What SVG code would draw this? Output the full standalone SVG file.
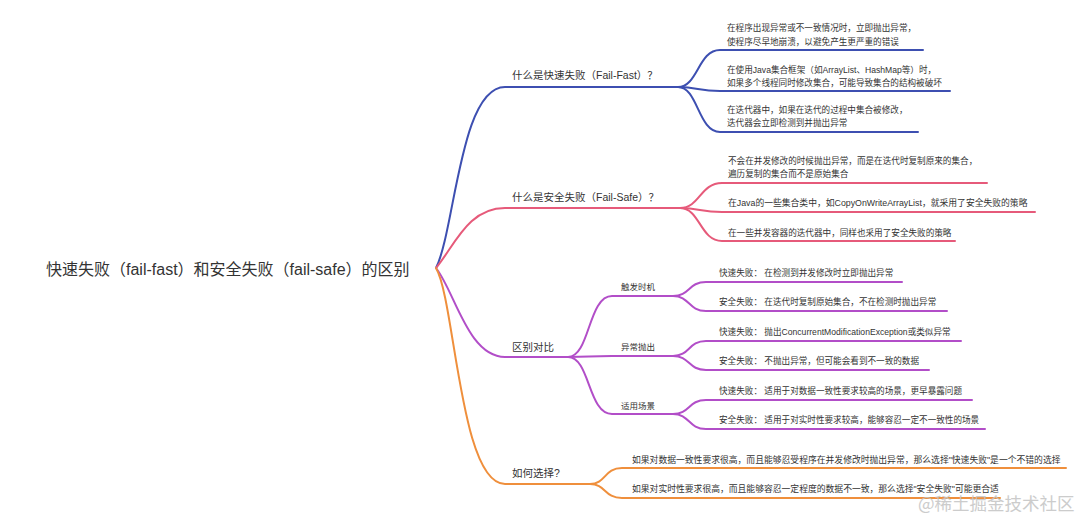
<svg xmlns="http://www.w3.org/2000/svg" width="1080" height="519" viewBox="0 0 1080 519">
<style>
text{font-family:"Liberation Sans","Noto Sans CJK SC",sans-serif;fill:#333}
.root{font-size:16px}
.l1{font-size:10.5px}
.l2{font-size:8.5px}
.leaf{font-size:8.6px}
.wide{font-size:8.8px}
.c{fill:none;stroke-width:2;stroke-linecap:round}
.b{stroke:#3d4fb1}.r{stroke:#e65a7a}.p{stroke:#b24ec8}.o{stroke:#ef8f3c}
.wm{font-family:"Noto Sans CJK SC",serif;font-size:17.5px;fill:#c4c4c4;opacity:0.85}
</style>
<rect width="1080" height="519" fill="#fff"/>
<g id="connectors">
<path class="c b" d="M436,268 C455,230 460,87 505,87 H678"/>
<path class="c b" d="M678,87 C698,87 698,50 720,50 H923"/>
<path class="c b" d="M678,87 C698,87 698,91 720,91 H950"/>
<path class="c b" d="M678,87 C698,87 698,132 720,132 H918"/>
<path class="c r" d="M436,268 C455,245 468,208 505,208 H680"/>
<path class="c r" d="M680,208 C700,208 700,183 722,183 H987"/>
<path class="c r" d="M680,208 C700,208 700,212 722,212 H1035"/>
<path class="c r" d="M680,208 C700,208 700,241 722,241 H955"/>
<path class="c p" d="M436,268 C455,292 468,357 505,357 H568"/>
<path class="c p" d="M568,357 C590,357 588,296 612,296 H673"/>
<path class="c p" d="M568,357 C590,357 588,356 612,356 H673"/>
<path class="c p" d="M568,357 C590,357 588,414 612,414 H673"/>
<path class="c p" d="M673,296 C690,296 688,282 706,282 H902"/>
<path class="c p" d="M673,296 C690,296 688,311 706,311 H947"/>
<path class="c p" d="M673,356 C690,356 688,341 706,341 H961"/>
<path class="c p" d="M673,356 C690,356 688,370 706,370 H929"/>
<path class="c p" d="M673,414 C690,414 688,400 706,400 H972"/>
<path class="c p" d="M673,414 C690,414 688,429 706,429 H985"/>
<path class="c o" d="M436,268 C455,300 460,484 505,484 H590"/>
<path class="c o" d="M590,484 C606,484 604,468 622,468 H1066"/>
<path class="c o" d="M590,484 C606,484 604,498 622,498 H1000"/>
</g>
<g id="root"><text class="root" x="46" y="275">快速失败（fail-fast）和安全失败（fail-safe）的区别</text></g>
<g id="n-failfast"><text class="l1" x="512" y="79">什么是快速失败（Fail-Fast）？</text></g>
<g id="n-ff1"><text class="leaf" x="727" y="31">在程序出现异常或不一致情况时，立即抛出异常，</text><text class="leaf" x="727" y="45">使程序尽早地崩溃，以避免产生更严重的错误</text></g>
<g id="n-ff2"><text class="leaf" x="727" y="73">在使用Java集合框架（如ArrayList、HashMap等）时，</text><text class="leaf" x="727" y="86">如果多个线程同时修改集合，可能导致集合的结构被破坏</text></g>
<g id="n-ff3"><text class="leaf" x="727" y="113">在迭代器中，如果在迭代的过程中集合被修改，</text><text class="leaf" x="727" y="126">迭代器会立即检测到并抛出异常</text></g>
<g id="n-failsafe"><text class="l1" x="512" y="201">什么是安全失败（Fail-Safe）？</text></g>
<g id="n-fs1"><text class="leaf" x="728" y="164">不会在并发修改的时候抛出异常，而是在迭代时复制原来的集合，</text><text class="leaf" x="728" y="177">遍历复制的集合而不是原始集合</text></g>
<g id="n-fs2"><text class="wide" x="728" y="206">在Java的一些集合类中，如CopyOnWriteArrayList，就采用了安全失败的策略</text></g>
<g id="n-fs3"><text class="leaf" x="728" y="236">在一些并发容器的迭代器中，同样也采用了安全失败的策略</text></g>
<g id="n-compare"><text class="l1" x="512" y="351">区别对比</text></g>
<g id="n-trigger"><text class="l2" x="621" y="290">触发时机</text></g>
<g id="n-trigger1"><text class="leaf" x="719" y="276">快速失败： 在检测到并发修改时立即抛出异常</text></g>
<g id="n-trigger2"><text class="leaf" x="719" y="305">安全失败： 在迭代时复制原始集合，不在检测时抛出异常</text></g>
<g id="n-throw"><text class="l2" x="621" y="350">异常抛出</text></g>
<g id="n-throw1"><text class="leaf" x="719" y="335">快速失败： 抛出ConcurrentModificationException或类似异常</text></g>
<g id="n-throw2"><text class="leaf" x="719" y="364">安全失败： 不抛出异常，但可能会看到不一致的数据</text></g>
<g id="n-scene"><text class="l2" x="621" y="409">适用场景</text></g>
<g id="n-scene1"><text class="leaf" x="719" y="394">快速失败： 适用于对数据一致性要求较高的场景，更早暴露问题</text></g>
<g id="n-scene2"><text class="leaf" x="719" y="423">安全失败： 适用于对实时性要求较高，能够容忍一定不一致性的场景</text></g>
<g id="n-choose"><text class="l1" x="512" y="477">如何选择?</text></g>
<g id="n-choose1"><text class="wide" x="632" y="463">如果对数据一致性要求很高，而且能够忍受程序在并发修改时抛出异常，那么选择"快速失败"是一个不错的选择</text></g>
<g id="n-choose2"><text class="wide" x="632" y="492">如果对实时性要求很高，而且能够容忍一定程度的数据不一致，那么选择"安全失败"可能更合适</text></g>
<text class="wm" x="918" y="510">@稀土掘金技术社区</text>
</svg>
